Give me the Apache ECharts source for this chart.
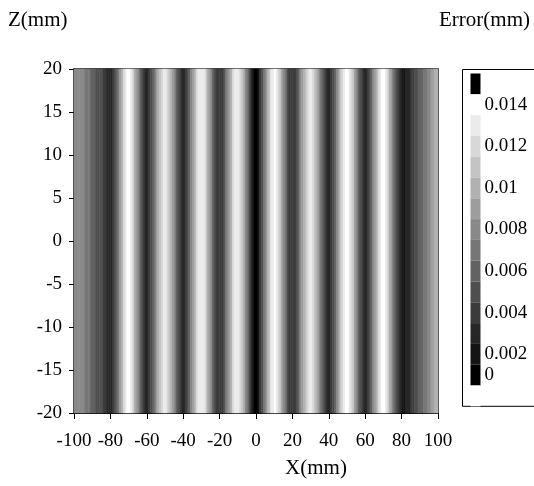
<!DOCTYPE html>
<html><head><meta charset="utf-8">
<script src="https://cdn.jsdelivr.net/npm/echarts@6/dist/echarts.min.js"></script>
<style>html,body{margin:0;padding:0;background:#fff}#c{width:534px;height:486px}</style>
</head><body><div id="c"></div>
<script>
// Axis ranges / ticks
const xRange = [-100, 100];
const xStep = 20;
const zRange = [-20, 20];
const zStep = 5;
// Error profile (micrometres), one value per 1 mm column, centred at -99.5 ... 99.5 mm
const errorUm = [
  7.6,7.5,7.5,7.4,7.3,7.1,6.8,6.6,6.3,5.9,5.5,5.2,4.9,4.6,4.3,4.0,3.6,3.2,2.7,2.1,2.1,
  3.1,4.2,5.5,6.9,8.4,9.8,11.1,12.2,13.1,13.1,12.2,11.1,9.8,8.4,7.0,5.6,4.3,3.2,2.3,2.3,
  3.1,4.1,5.3,6.6,8.0,9.3,10.5,11.5,12.3,12.3,11.6,10.6,9.5,8.2,7.0,5.7,4.6,3.6,2.9,2.9,
  3.7,4.7,5.9,7.2,8.5,9.8,11.0,12.0,12.8,12.8,12.0,11.0,9.9,8.6,7.2,5.9,4.8,3.8,3.0,3.0,
  3.8,4.8,6.0,7.3,8.6,9.9,11.1,12.1,12.9,12.8,11.9,10.7,9.2,7.6,6.0,4.4,2.9,1.7,0.8,
  0.8,1.7,3.0,4.4,6.0,7.7,9.3,10.7,12.0,12.9,13.0,12.2,11.2,10.0,8.7,7.3,6.0,4.8,3.8,3.0,
  3.0,3.7,4.7,5.9,7.1,8.4,9.7,10.8,11.8,12.5,12.5,11.7,10.7,9.6,8.3,6.9,5.6,4.5,3.5,2.7,
  2.7,3.5,4.6,5.9,7.3,8.7,10.1,11.4,12.5,13.3,13.3,12.4,11.3,10.0,8.6,7.1,5.7,4.4,3.3,2.4,
  2.4,3.2,4.3,5.6,7.0,8.4,9.8,11.1,12.2,13.0,13.0,12.1,11.0,9.7,8.3,6.9,5.5,4.2,3.1,2.2,
  1.9,1.9,2.1,2.5,2.9,3.3,3.7,4.1,4.6,5.0,5.4,5.8,6.3,6.7,7.2,7.6,8.1,8.6,9.0,9.4
];
const columnStart = -99.5; // mm, centre of first column
// Contour levels (mm) and colours, low to high
const levelEdges = [0,0.001,0.002,0.003,0.004,0.005,0.006,0.007,0.008,0.009,0.010,0.011,0.012,0.013,0.014];
const levelColors = ['#000000','#141414','#272727','#3b3b3b','#4e4e4e','#626262','#767676','#898989','#9d9d9d','#b1b1b1','#c4c4c4','#d8d8d8','#ebebeb','#ffffff'];
const levelLabels = ['0','0.002',' ','0.004',' ','0.006',' ','0.008',' ','0.01',' ','0.012',' ','0.014'];
const belowColor = '#ffffff';
const aboveColor = '#000000';

const xCats = errorUm.map((_, i) => String(columnStart + i));
const heatData = errorUm.map((v, i) => [i, 0, v / 1000]);

const pieces = [{lt: levelEdges[0], color: belowColor, label: ' '}];
for (let k = 0; k < levelColors.length; k++) {
  pieces.push({gte: levelEdges[k], lt: levelEdges[k + 1], color: levelColors[k], label: levelLabels[k]});
}
pieces.push({gte: levelEdges[levelEdges.length - 1], color: aboveColor, label: ' '});

const FONT = 'Liberation Serif';
const chart = echarts.init(document.getElementById('c'), null, {renderer: 'canvas'});
chart.setOption({
  animation: false,
  backgroundColor: '#fff',
  title: [
    {text: 'Z(mm)', left: 3, top: 5, textStyle: {fontFamily: FONT, fontSize: 21, fontWeight: 'normal', color: '#000'}},
    {text: 'Error(mm)', left: 434, top: 5, textStyle: {fontFamily: FONT, fontSize: 21, fontWeight: 'normal', color: '#000'}}
  ],
  grid: {left: 74, right: 96, top: 69, bottom: 73, show: true, borderColor: '#000', borderWidth: 1.5, backgroundColor: 'transparent'},
  xAxis: [
    {type: 'value', min: xRange[0], max: xRange[1], interval: xStep, position: 'bottom',
     axisLine: {onZero: false, lineStyle: {color: '#000', width: 1}},
     axisTick: {length: 6, lineStyle: {color: '#000'}},
     axisLabel: {margin: 19, fontFamily: FONT, fontSize: 19, color: '#000'},
     splitLine: {show: false},
     name: 'X(mm)', nameLocation: 'middle', nameGap: 45,
     nameTextStyle: {fontFamily: FONT, fontSize: 21, color: '#000', padding: [0, 0, 0, 120]}},
    {type: 'category', data: xCats, show: false, boundaryGap: true}
  ],
  yAxis: [
    {type: 'value', min: zRange[0], max: zRange[1], interval: zStep,
     axisLine: {onZero: false, lineStyle: {color: '#000', width: 1}},
     axisTick: {length: 5, lineStyle: {color: '#000'}},
     axisLabel: {margin: 12, fontFamily: FONT, fontSize: 19, color: '#000'},
     splitLine: {show: false}},
    {type: 'category', data: ['z'], show: false, boundaryGap: true}
  ],
  visualMap: {
    type: 'piecewise', seriesIndex: 0, dimension: 2, orient: 'vertical', align: 'left',
    left: 462, top: 69,
    itemWidth: 10, itemHeight: 20.8, itemGap: 0, itemSymbol: 'rect', textGap: 4,
    padding: [4, 30, 0, 8], borderColor: '#000', borderWidth: 1, backgroundColor: '#fff',
    selectedMode: false, hoverLink: false,
    textStyle: {fontFamily: FONT, fontSize: 19, color: '#000'},
    pieces: pieces
  },
  series: [{
    type: 'heatmap', xAxisIndex: 1, yAxisIndex: 1, data: heatData,
    itemStyle: {borderWidth: 0}, emphasis: {disabled: true}, progressive: 0
  }]
});
</script></body></html>
